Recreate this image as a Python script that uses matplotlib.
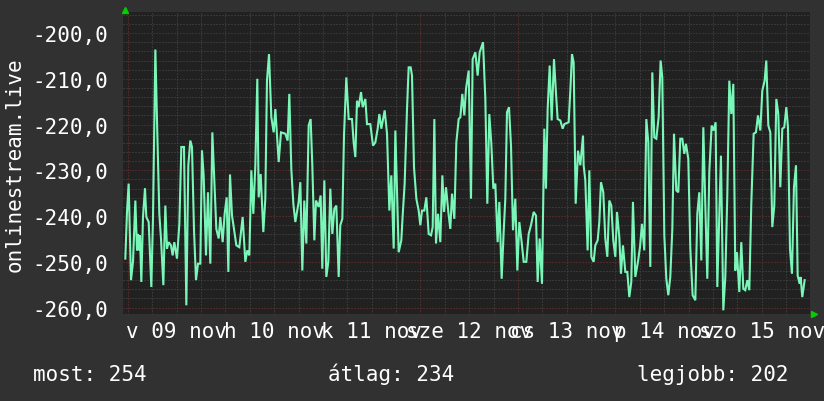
import matplotlib
matplotlib.use('Agg')
import matplotlib.pyplot as plt

# ping értékek (óra a v 09 nov 00:00 óta)
hours = [
    -0.66, -0.25, 0.16, 0.74, 1.23, 1.81, 2.21, 2.46, 2.79, 2.95, 3.28, 3.69, 4.18, 4.51,
    5.09, 5.74, 6.15, 6.73, 7.14, 7.71, 8.12, 8.70, 9.19, 9.60, 10.01, 10.58, 10.99, 11.40,
    12.06, 12.64, 13.13, 13.78, 14.36, 14.85, 15.34, 15.75, 16.25, 16.74, 17.23, 17.80,
    18.21, 18.62, 19.20, 19.69, 20.27, 20.76, 21.17, 21.74, 22.32, 22.73, 23.30, 23.79,
    24.29, 24.70, 25.11, 25.60, 26.09, 26.67, 27.40, 28.22, 28.88, 29.37, 29.87, 30.36,
    30.85, 31.34, 31.83, 32.16, 32.66, 33.31, 33.80, 34.21, 34.71, 35.28, 35.86, 36.27,
    37.09, 37.66, 38.73, 39.30, 39.71, 40.20, 40.70, 41.19, 42.01, 42.42, 42.91, 43.40,
    43.90, 44.47, 44.96, 45.37, 45.87, 46.28, 46.93, 47.42, 47.83, 48.33, 48.82, 49.31,
    49.80, 50.30, 50.79, 51.28, 51.86, 52.26, 52.76, 53.17, 53.74, 54.32, 55.14, 55.55,
    55.96, 56.37, 56.78, 57.36, 57.77, 58.42, 58.83, 59.65, 60.31, 60.88, 61.46, 61.87,
    62.36, 63.18, 63.76, 64.33, 64.82, 65.40, 65.81, 66.63, 67.28, 67.61, 68.10, 68.68,
    69.09, 69.58, 69.91, 70.40, 70.98, 71.55, 71.96, 72.37, 72.94, 73.44, 74.01, 74.59,
    75.00, 75.41, 75.82, 76.31, 76.88, 77.38, 77.79, 78.28, 78.85, 79.34, 79.76, 80.33,
    80.82, 81.40, 81.81, 82.30, 82.79, 83.20, 83.86, 84.43, 84.84, 85.50, 86.07, 86.57,
    87.39, 87.96, 88.45, 88.94, 89.44, 89.93, 90.42, 90.99, 91.41, 91.98, 92.47, 92.88,
    93.29, 93.79, 94.28, 94.77, 95.34, 95.84, 96.33, 96.90, 97.40, 98.05, 98.63, 99.20,
    99.86, 100.43, 100.84, 101.33, 101.91, 102.48, 102.89, 103.30, 103.80, 104.29, 104.86,
    105.36, 105.76, 106.42, 106.99, 107.41, 108.47, 108.88, 109.29, 109.70, 110.20, 110.77,
    111.34, 112.00,
    112.16, 112.57, 113.14, 113.56, 114.05, 114.62, 115.03, 115.61, 116.02, 116.43, 117.00,
    117.49, 117.99, 118.48, 118.97, 119.46, 119.96, 120.37, 120.94, 121.35, 121.84, 122.42,
    122.91, 123.40, 123.89, 124.30, 124.88, 125.53, 126.03, 126.52, 127.09, 127.59, 128.08,
    128.57, 129.06, 129.55, 130.05, 130.62, 131.11, 131.52, 132.02, 132.51, 133.00, 133.49,
    133.99, 134.40, 134.97, 135.46, 135.95, 136.45, 136.94, 137.35, 137.92, 138.42, 138.99,
    139.65, 140.14, 140.63, 141.12, 141.62, 142.11, 142.60, 143.09, 143.67, 144.16, 144.65,
    145.06, 145.96, 146.54, 147.03, 147.52, 148.02, 148.51, 149.00, 149.49, 149.90, 150.48,
    150.97, 151.46, 151.95, 152.45, 152.94, 153.43, 154.01, 154.58, 155.07, 155.65, 156.14,
    156.71, 157.12, 157.62, 158.11, 158.60, 159.09, 159.59, 160.08, 160.57, 161.06, 161.55,
    162.05, 162.46, 162.95, 163.44, 163.93, 164.43, 164.84, 165.33, 165.57, 165.98, 166.56,
]
values = [
    -249.3, -239.1, -232.9, -254.0, -250.0, -236.6, -247.5, -243.9, -247.5, -244.2, -254.4, -240.2, -233.9, -240.2,
    -241.3, -255.5, -240.6, -203.6, -219.1, -239.5, -244.9, -255.1, -237.7, -247.1, -245.7, -246.4, -248.6, -245.7,
    -249.3, -241.7, -224.9, -224.9, -259.5, -228.9, -223.5, -224.9, -243.1, -254.0, -250.4, -250.4,
    -225.7, -231.1, -248.6, -234.8, -250.4, -221.7, -230.4, -242.8, -244.9, -240.2, -245.7, -239.5,
    -235.9, -252.2, -230.9, -239.9, -242.8, -246.4, -246.8, -240.2, -250.0, -247.5, -248.6, -230.0,
    -239.5, -228.9, -210.0, -235.9, -230.8, -243.5, -236.2, -210.4, -204.6, -218.4, -221.7, -216.6,
    -228.2, -221.7, -222.0, -223.5, -213.3, -229.7, -237.3, -241.3, -236.9, -232.6, -251.9, -236.6,
    -246.0, -220.2, -218.8, -228.9, -245.3, -236.6, -238.0, -235.5, -251.5, -232.2, -253.3, -250.0,
    -234.0, -243.9, -238.4, -237.7, -253.3, -242.0, -240.6, -222.4, -209.7, -218.8, -218.8, -223.9,
    -227.1, -214.8, -216.2, -212.9, -216.2, -214.4, -219.9, -219.9, -224.6, -223.9, -220.9, -217.7,
    -220.9, -216.9, -222.0, -238.8, -231.1, -247.1, -221.3, -247.9, -245.3, -239.9, -232.9, -216.6,
    -207.5, -207.5, -209.3, -229.3, -236.2, -238.8, -242.0, -238.8, -238.8, -235.9, -243.9, -244.2,
    -242.4, -218.8, -246.0, -239.5, -245.7, -231.1, -239.1, -233.7, -239.1, -242.8, -235.1, -240.6,
    -223.9, -218.8, -218.4, -213.3, -218.0, -212.2, -208.2, -236.2, -205.7, -204.2, -209.3, -204.2,
    -202.0, -214.4, -237.3, -217.7, -224.2, -234.0, -232.9, -245.7, -236.9, -253.7, -243.5, -236.2,
    -217.3, -216.2, -224.6, -243.1, -236.2, -251.9, -241.3, -245.7, -250.0, -250.0, -243.9, -242.0,
    -239.1, -239.9, -254.4, -244.9, -254.8, -220.9, -234.0, -216.6, -207.1, -219.1, -205.7,
    -213.3, -218.8, -219.1, -220.9, -219.9, -219.5, -212.6, -204.6, -206.4, -237.3, -225.7,
    -228.9, -222.4,
    -228.9, -232.2, -247.5, -230.0, -248.9, -250.0, -246.4, -245.3, -241.3, -232.6, -234.8,
    -244.9, -248.9, -236.6, -237.7, -245.3, -248.9, -239.1, -244.6, -252.6, -246.4, -252.2,
    -252.2, -257.7, -254.4, -236.9, -253.3, -250.0, -246.8, -241.7, -247.5, -218.8, -223.9,
    -251.1, -208.6, -222.8, -223.1, -218.4, -206.0, -209.7, -244.2, -253.7, -257.3, -253.3,
    -242.8, -222.0, -234.4, -234.8, -223.1, -223.1, -226.4, -224.2, -227.5, -247.1, -257.3,
    -258.4, -239.5, -234.8, -249.7, -220.6, -237.7, -253.7, -230.4, -220.2, -221.3, -219.5,
    -255.5, -226.8, -260.6, -253.3, -235.5, -210.4, -217.7, -211.1, -251.9, -247.9, -256.6,
    -245.7, -255.9, -256.2, -254.0, -256.2, -237.3, -222.0, -221.7, -218.0, -221.3, -212.6,
    -210.4, -206.0, -220.2, -221.7, -242.4, -237.7, -214.4, -217.7, -233.7, -220.9, -220.6,
    -216.2, -220.6, -247.1, -252.6, -233.7, -228.9, -253.0, -254.8, -253.3, -257.7, -254.0,
]
assert len(hours) == len(values), (len(hours), len(values))

day_labels = ['v 09 nov', 'h 10 nov', 'k 11 nov', 'sze 12 nov', 'cs 13 nov', 'p 14 nov', 'szo 15 nov']
label_hours = [12, 36, 60, 84, 108, 132, 156]
y_ticks = [-200, -210, -220, -230, -240, -250, -260]
summary = [('most: 254', 33), ('átlag: 234', 328), ('legjobb: 202', 637)]

BACK = '#313131'
CANVAS = '#212121'
MAJOR = '#7a3232'
MINOR = '#4e4e4e'
LINE = '#7af7b8'
ARROW = '#00d000'
FONT = 'DejaVu Sans Mono'
FS = 15

W, H = 824, 402
fig = plt.figure(figsize=(W / 100, H / 100), dpi=100, facecolor=BACK)
ax = fig.add_axes([123 / W, 1 - 315 / H, 687 / W, 302 / H])
ax.set_facecolor(CANVAS)
for s in ax.spines.values():
    s.set_visible(False)

ax.set_xlim(-1.231, 167.88)
ax.set_ylim(-261.4, -195.4)

# rácsvonalak
dots = (0, (1, 2))
for h in range(0, 168, 6):
    major = h % 24 == 0
    ax.axvline(h, color=MAJOR if major else MINOR, lw=0.72, ls=dots, zorder=1)
for v in range(-260, -194, 2):
    major = v % 10 == 0
    ax.axhline(v, color=MAJOR if major else MINOR, lw=0.72, ls=dots, zorder=1)

ax.plot(hours, values, color=LINE, lw=1.5, zorder=3, solid_joinstyle='miter')

ax.set_xticks(label_hours)
ax.set_xticklabels(day_labels)
ax.set_yticks(y_ticks)
ax.set_yticklabels([f'{v:.1f}'.replace('.', ',') for v in y_ticks])
ax.tick_params(axis='both', length=0, colors='white', labelsize=FS)
ax.tick_params(axis='x', pad=5.2)
ax.tick_params(axis='y', pad=10.5)
for lab in ax.get_xticklabels() + ax.get_yticklabels():
    lab.set_fontfamily(FONT)

# zöld nyilak
ax.plot([0.003], [1.0 + 2.5 / 302], marker='^', ms=5, color=ARROW, transform=ax.transAxes, clip_on=False)
ax.plot([1.0 + 3.5 / 687], [0.0], marker='>', ms=5, color=ARROW, transform=ax.transAxes, clip_on=False)

fig.text(14.5 / W, 1 - 165 / H, 'onlinestream.live', rotation=90, ha='center', va='center',
         color='white', fontsize=FS, family=FONT)
for txt, px in summary:
    fig.text(px / W, 1 - 381 / H, txt, ha='left', va='baseline', color='white', fontsize=FS, family=FONT)

fig.savefig('out.png', dpi=100, facecolor=BACK)
